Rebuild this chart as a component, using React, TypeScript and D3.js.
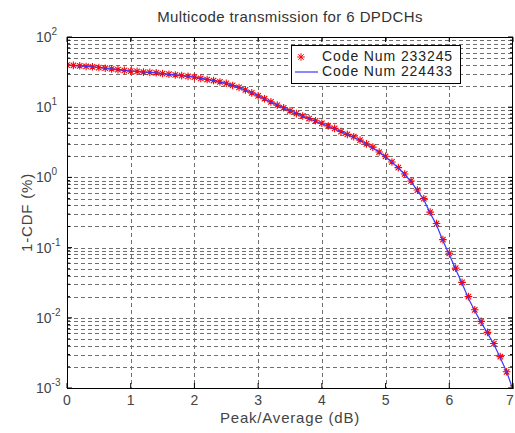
import * as d3 from "d3";

// sample grid (dB) and the two 1-CDF curves (%)
const PEAK_DB = [
  0, 0.1, 0.2, 0.3, 0.4, 0.5, 0.6, 0.7, 0.8, 0.9,
  1, 1.1, 1.2, 1.3, 1.4, 1.5, 1.6, 1.7, 1.8, 1.9,
  2, 2.1, 2.2, 2.3, 2.4, 2.5, 2.6, 2.7, 2.8, 2.9,
  3, 3.1, 3.2, 3.3, 3.4, 3.5, 3.6, 3.7, 3.8, 3.9,
  4, 4.1, 4.2, 4.3, 4.4, 4.5, 4.6, 4.7, 4.8, 4.9,
  5, 5.1, 5.2, 5.3, 5.4, 5.5, 5.6, 5.7, 5.8, 5.9,
  6, 6.1, 6.2, 6.3, 6.4, 6.5, 6.6, 6.7, 6.8, 6.9,
  7,
];

const CODE_233245 = [
  39.8, 39.4, 38.9, 38.0, 37.6, 36.7, 35.9, 35.1, 34.3, 33.5,
  32.7, 32.4, 31.6, 31.3, 30.9, 30.2, 29.5, 28.8, 28.2, 27.5,
  26.9, 25.7, 24.8, 24.0, 22.9, 21.9, 20.4, 19.1, 17.6, 16.0,
  14.5, 13.2, 11.9, 10.7, 9.8, 8.9, 8.1, 7.5, 6.9, 6.4,
  5.9, 5.4, 5.0, 4.5, 4.1, 3.8, 3.4, 3.0, 2.7, 2.3,
  2.0, 1.66, 1.38, 1.12, 0.89, 0.66, 0.50, 0.32, 0.22, 0.13,
  0.083, 0.051, 0.032, 0.020, 0.013, 0.0089, 0.0062, 0.0043, 0.0028, 0.0017,
  0.0010,
];

const CODE_224433 = [
  39.6, 39.2, 38.8, 38.1, 37.5, 36.8, 36.0, 35.2, 34.2, 33.6,
  32.8, 32.3, 31.7, 31.2, 30.8, 30.1, 29.4, 28.9, 28.1, 27.6,
  26.8, 25.8, 24.9, 23.9, 22.8, 21.8, 20.5, 19.0, 17.5, 16.1,
  14.6, 13.1, 11.8, 10.8, 9.7, 9.0, 8.2, 7.4, 6.9, 6.3,
  5.8, 5.4, 4.9, 4.5, 4.1, 3.7, 3.4, 3.0, 2.6, 2.3,
  1.95, 1.64, 1.36, 1.10, 0.87, 0.65, 0.48, 0.31, 0.21, 0.125,
  0.080, 0.049, 0.031, 0.019, 0.0125, 0.0086, 0.0060, 0.0042, 0.0027, 0.0017,
  0.00095,
];

const X_TICKS = [0, 1, 2, 3, 4, 5, 6, 7];
const Y_EXPONENTS = [2, 1, 0, -1, -2, -3];
const LEGEND_LABELS = ["Code Num 233245", "Code Num 224433"];

const W = 515;
const H = 433;
const left = 67;
const right = 513;
const top = 37;
const bottom = 388;
const font = "'Liberation Sans', Arial, sans-serif";

function star(r: number) {
  const d = r * 0.72;
  return `M${-r},0H${r}M0,${-r}V${r}M${-d},${-d}L${d},${d}M${-d},${d}L${d},${-d}`;
}

export default function App() {
  const x = d3.scaleLinear().domain([0, 7]).range([left, right]);
  const y = d3.scaleLog().domain([1e-3, 1e2]).range([bottom, top]);

  const gridY = y.ticks();
  const line = d3
    .line<number>()
    .x((_, i) => x(PEAK_DB[i]))
    .y((v) => y(v));

  const starPath = star(3.8);

  return (
    <svg
      width={W}
      height={H}
      style={{ position: "absolute", left: 0, top: 0, background: "#fff" }}
      fontFamily={font}
    >
      <defs>
        <clipPath id="plot">
          <rect x={left} y={top - 1} width={right - left + 1} height={bottom - top + 2} />
        </clipPath>
      </defs>
      <rect x={0} y={0} width={W} height={H} fill="#fff" />

      {/* grid */}
      <g stroke="#707070" strokeWidth={1} strokeDasharray="4,3">
        {gridY.map((v, i) => (
          <line key={"gy" + i} x1={left} x2={right} y1={Math.round(y(v)) + 0.5} y2={Math.round(y(v)) + 0.5} />
        ))}
        {X_TICKS.slice(1, -1).map((t) => (
          <line key={"gx" + t} x1={Math.round(x(t)) + 0.5} x2={Math.round(x(t)) + 0.5} y1={top} y2={bottom} />
        ))}
      </g>

      {/* ticks */}
      <g stroke="#000" strokeWidth={1}>
        {X_TICKS.map((t) => (
          <g key={"tx" + t}>
            <line x1={x(t)} x2={x(t)} y1={bottom} y2={bottom - 5} />
            <line x1={x(t)} x2={x(t)} y1={top} y2={top + 5} />
          </g>
        ))}
        {gridY.map((v, i) => {
          const len = Number.isInteger(Math.log10(v)) ? 5 : 3;
          return (
            <g key={"ty" + i}>
              <line x1={left} x2={left + len} y1={y(v)} y2={y(v)} />
              <line x1={right} x2={right - len} y1={y(v)} y2={y(v)} />
            </g>
          );
        })}
      </g>

      {/* data */}
      <g clipPath="url(#plot)">
        <g stroke="#ff0000" strokeWidth={1.1} fill="none">
          {CODE_233245.map((v, i) => (
            <path key={"s" + i} d={starPath} transform={`translate(${x(PEAK_DB[i])},${y(v)})`} />
          ))}
        </g>
        <path d={line(CODE_224433) ?? ""} fill="none" stroke="#3a3aff" strokeWidth={1.2} />
      </g>

      {/* box */}
      <rect x={left + 0.5} y={top + 0.5} width={right - left - 1} height={bottom - top} fill="none" stroke="#000" strokeWidth={1} />

      {/* x tick labels */}
      <g fontSize={14} fill="#444" textAnchor="middle">
        {X_TICKS.map((t) => (
          <text key={"lx" + t} x={Math.min(x(t), W - 5)} y={bottom + 17}>
            {t}
          </text>
        ))}
      </g>

      {/* y tick labels */}
      <g fontSize={14} fill="#444">
        {Y_EXPONENTS.map((e) => (
          <text key={"ly" + e} x={left - 31} y={y(Math.pow(10, e)) + 5}>
            10
            <tspan fontSize={10} dy={-7}>
              {e}
            </tspan>
          </text>
        ))}
      </g>

      {/* titles */}
      <text x={(left + right) / 2} y={22} textAnchor="middle" fontSize={15} letterSpacing={0.4} fill="#333">
        Multicode transmission for 6 DPDCHs
      </text>
      <text x={(left + right) / 2} y={423} textAnchor="middle" fontSize={15} letterSpacing={0.8} fill="#444">
        Peak/Average (dB)
      </text>
      <text
        transform={`translate(32,${(top + bottom) / 2}) rotate(-90)`}
        textAnchor="middle"
        fontSize={15}
        letterSpacing={0.8}
        fill="#444"
      >
        1-CDF (%)
      </text>

      {/* legend */}
      <g transform="translate(291,45)">
        <rect x={0.5} y={0.5} width={169} height={38} fill="#fff" stroke="#000" strokeWidth={1} />
        <path d={starPath} transform="translate(10,12)" stroke="#ff0000" fill="none" />
        <line x1={4} x2={27} y1={27} y2={27} stroke="#3a3aff" strokeWidth={1.2} />
        <g fontSize={14} letterSpacing={0.9} fill="#222">
          {LEGEND_LABELS.map((lab, i) => (
            <text key={lab} x={31} y={16 + i * 15}>
              {lab}
            </text>
          ))}
        </g>
      </g>
    </svg>
  );
}
